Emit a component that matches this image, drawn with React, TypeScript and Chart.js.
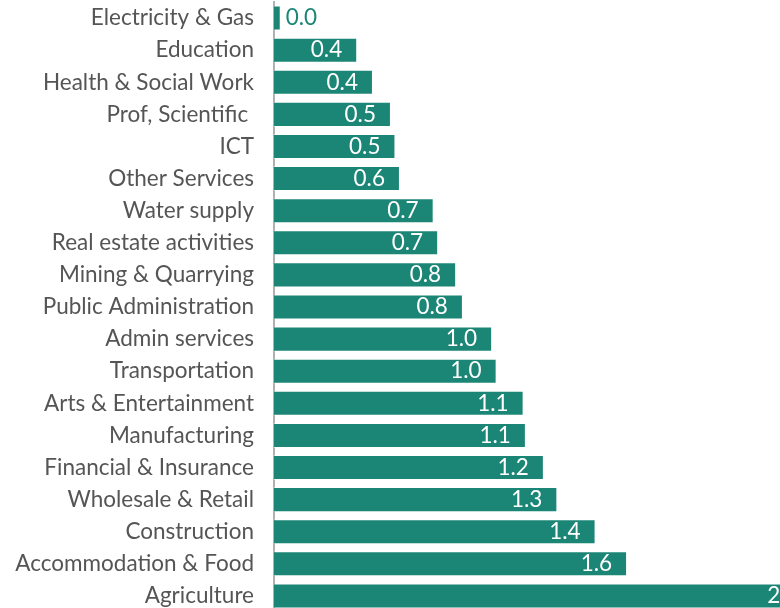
import React, { useEffect, useRef } from "react";
import { Chart, registerables } from "chart.js";

Chart.register(...registerables);

const categories = [
  "Electricity & Gas",
  "Education",
  "Health & Social Work",
  "Prof, Scientific ",
  "ICT",
  "Other Services",
  "Water supply",
  "Real estate activities",
  "Mining & Quarrying",
  "Public Administration",
  "Admin services",
  "Transportation",
  "Arts & Entertainment",
  "Manufacturing",
  "Financial & Insurance",
  "Wholesale & Retail",
  "Construction",
  "Accommodation & Food",
  "Agriculture",
];

const values = [
  0.03, 0.37, 0.44, 0.52, 0.54, 0.56, 0.71, 0.73, 0.81, 0.84, 0.97, 0.99,
  1.11, 1.12, 1.2, 1.26, 1.43, 1.57, 2.4,
];

const xMax = 2.25;

const BAR_COLOR = "#1b8676";
const FONT = "Lato, 'Open Sans', sans-serif";
const FONT_SIZE = 22.5;

const labelPlugin = {
  id: "barLabels",
  afterDatasetsDraw(chart: any) {
    const ctx = chart.ctx;
    const meta = chart.getDatasetMeta(0);
    ctx.save();
    ctx.font = `${FONT_SIZE}px ${FONT}`;
    ctx.textBaseline = "middle";
    meta.data.forEach((bar: any, i: number) => {
      const v = values[i];
      const txt = v.toFixed(1);
      const w = bar.x - bar.base;
      if (w < 40) {
        ctx.fillStyle = BAR_COLOR;
        ctx.textAlign = "left";
        ctx.fillText(txt, bar.x + 5, bar.y);
      } else {
        ctx.fillStyle = "#ffffff";
        ctx.textAlign = "right";
        ctx.fillText(txt, bar.x - 15, bar.y);
      }
    });
    ctx.restore();
  },
};

export default function App() {
  const ref = useRef<HTMLCanvasElement>(null);

  useEffect(() => {
    document.body.style.margin = "0";
    let chart: Chart | null = null;
    let cancelled = false;
    const make = () => {
      if (cancelled || !ref.current) return;
      chart = new Chart(ref.current, {
        type: "bar",
        data: {
          labels: categories,
          datasets: [
            {
              data: values,
              backgroundColor: BAR_COLOR,
              borderColor: "rgba(255,255,255,0.55)",
              borderWidth: 1,
              borderSkipped: "left",
              barPercentage: 0.78,
              categoryPercentage: 1,
            },
          ],
        },
        options: {
          indexAxis: "y",
          responsive: false,
          animation: false,
          devicePixelRatio: 1,
          layout: { padding: { top: 2, bottom: 2, left: 0, right: 0 } },
          plugins: {
            legend: { display: false },
            tooltip: { enabled: false },
            title: { display: false },
          },
          scales: {
            x: {
              display: false,
              min: 0,
              max: xMax,
            },
            y: {
              afterFit(scale: any) {
                scale.width = 274;
                scale.paddingTop = 0;
                scale.paddingBottom = 0;
              },
              grid: { display: false, drawTicks: false },
              border: { display: true, color: "#b0b0b0", width: 2 },
              ticks: {
                color: "#555555",
                padding: 20,
                font: { family: FONT, size: FONT_SIZE },
                autoSkip: false,
              },
            },
          },
        },
        plugins: [labelPlugin],
      });
    };
    const fontsReady = (document as any).fonts
      ? (document as any).fonts.load(`22px Lato`).catch(() => null)
      : Promise.resolve();
    fontsReady.then(make);
    return () => {
      cancelled = true;
      if (chart) chart.destroy();
    };
  }, []);

  return (
    <div style={{ width: 780, height: 608, overflow: "hidden" }}>
      <canvas ref={ref} width={780} height={614} style={{ display: "block" }} />
    </div>
  );
}
